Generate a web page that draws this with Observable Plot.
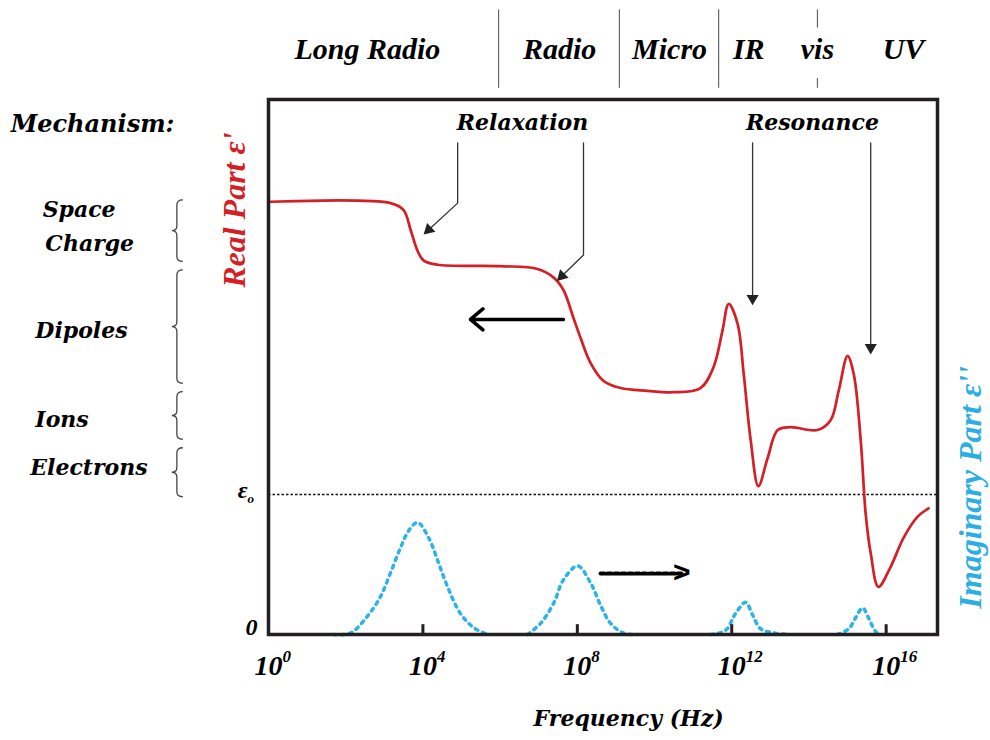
<!DOCTYPE html>
<html><head><meta charset="utf-8">
<script src="https://cdn.jsdelivr.net/npm/d3@7"></script>
<script src="https://cdn.jsdelivr.net/npm/@observablehq/plot@0.6"></script>
<style>
body{margin:0;background:#fff;}
#chart{width:990px;height:740px;}
</style></head><body><div id="chart"></div>
<script>
// ---- data (x = log10 frequency, y = permittivity in units of ε0) ----
const xTickExps = [0, 4, 8, 12, 16];
const realPart = [
  [0.05,3.09],[3.16,3.08],[3.50,3.03],[3.68,2.89],[3.86,2.74],[4.02,2.67],[4.38,2.64],
  [6.01,2.63],[6.97,2.61],[7.38,2.55],[7.64,2.46],[7.90,2.26],[8.08,2.12],[8.34,1.94],
  [8.68,1.81],[9.12,1.76],[9.82,1.74],[10.49,1.73],[11.19,1.76],[11.53,1.91],[11.76,2.17],
  [11.92,2.36],[12.15,2.22],[12.31,1.86],[12.49,1.39],[12.69,1.06],[12.93,1.26],[13.19,1.46],
  [13.52,1.48],[14.22,1.46],[14.56,1.53],[14.77,1.74],[15.00,1.99],[15.16,1.86],[15.34,1.39],
  [15.47,0.86],[15.60,0.58],[15.80,0.34],[16.11,0.48],[16.45,0.69],[16.81,0.84],[17.10,0.90]
];
const imagPeak1 = [[1.68,0],[2.12,0.01],[2.56,0.13],[2.90,0.27],[3.16,0.44],[3.42,0.62],[3.63,0.74],[3.86,0.80],[4.15,0.69],[4.38,0.53],[4.64,0.34],[4.97,0.15],[5.31,0.05],[5.67,0]];
const imagPeak2 = [[6.71,0],[7.05,0.08],[7.38,0.22],[7.64,0.39],[8.01,0.49],[8.34,0.37],[8.60,0.21],[8.86,0.08],[9.20,0.01],[9.56,0]];
const imagPeak3 = [[11.45,0],[11.84,0.03],[12.10,0.15],[12.36,0.23],[12.54,0.14],[12.75,0.04],[13.13,0.01],[13.45,0]];
const imagPeak4 = [[14.74,0],[15.03,0.04],[15.21,0.12],[15.39,0.19],[15.54,0.12],[15.73,0.02],[15.85,0]];
const epsilon0 = 1;

const bandLabels = ["Long Radio","Radio","Micro","IR","vis","UV"];
const bandCenters = [2.56, 7.54, 10.39, 12.44, 14.22, 16.45];
const bandSeparators = [[5.96,3.90,4.46],[9.09,3.90,4.46],[11.66,3.90,4.46],[14.22,4.33,4.46],[14.22,3.90,3.97]];

const mechLabels = ["Mechanism:","Space","Charge","Dipoles","Ions","Electrons"];
const mechX = [-6.68,-5.85,-5.78,-6.04,-6.04,-6.17];
const mechY = [3.64,3.03,2.79,2.17,1.53,1.19];
const braceX = -2.49;
const braceRanges = [[3.10,2.66],[2.60,1.79],[1.73,1.39],[1.33,0.98]];

const relaxArrows = [[[4.90,3.51],[4.90,3.08],[4.15,2.89]], [[8.16,3.51],[8.16,2.71],[7.60,2.56]]];
const resonArrows = [[[12.54,3.51],[12.54,2.40]], [[15.60,3.51],[15.60,2.05]]];
const arrowHeads = [[4.15,2.89,227],[7.60,2.56,225],[12.54,2.40,180],[15.60,2.05,180]];
const shiftArrowLeft = [7.64, 5.23, 2.25];
const shiftArrowRight = [8.60, 10.93, 0.436];

// ---- helpers ----
const F = e => Math.pow(10, e);
const serif = "Liberation Serif";
const wide = "DejaVu Serif";
const imagData = [imagPeak1, imagPeak2, imagPeak3, imagPeak4].flatMap((p, k) => p.map(d => ({e: d[0], v: d[1], peak: k})));
const mech = mechLabels.map((t, i) => ({t, e: mechX[i], v: mechY[i], size: i === 0 ? 24 : 22}));
const bands = bandLabels.map((t, i) => ({t, e: bandCenters[i]}));

const plot = Plot.plot({
  width: 990, height: 740,
  marginLeft: 268, marginRight: 53, marginTop: 99, marginBottom: 106,
  style: {fontFamily: serif, background: "#fff", overflow: "visible"},
  x: {type: "log", domain: [1, F(17.33)], axis: null},
  y: {domain: [0, 3.82], axis: null},
  marks: [
    Plot.ruleY([epsilon0], {stroke: "#111", strokeWidth: 1.5, strokeDasharray: "2.5,2"}),
    Plot.line(imagData, {x: d => F(d.e), y: "v", z: "peak", stroke: "#2db3e6", strokeWidth: 3.5, strokeDasharray: "3,5", curve: "catmull-rom"}),
    Plot.line(realPart, {x: d => F(d[0]), y: d => d[1], stroke: "#d41f26", strokeWidth: 2.7, curve: "catmull-rom"}),
    Plot.frame({stroke: "#231f20", strokeWidth: 3.5}),
    Plot.ruleX(xTickExps.slice(1), {x: F, y1: 0, y2: 0.07, stroke: "#231f20", strokeWidth: 3}),
    // tick labels
    Plot.text(xTickExps, {x: F, y: 0, text: () => "10", dy: 32, fontSize: 28, fontStyle: "italic", fontWeight: "bold"}),
    Plot.text(xTickExps, {x: F, y: 0, text: d => String(d), dx: 14, dy: 22, textAnchor: "start", fontSize: 17, fontStyle: "italic", fontWeight: "bold"}),
    Plot.text(["Frequency (Hz)"], {x: F(9.33), y: -0.6, fontFamily: wide, fontSize: 22, fontStyle: "italic", fontWeight: "bold"}),
    // y labels
    Plot.text(["0"], {x: 1, y: 0.05, dx: -11, textAnchor: "end", fontSize: 24, fontStyle: "italic", fontWeight: "bold"}),
    Plot.text(["ε"], {x: 1, y: 1.03, dx: -21, textAnchor: "end", fontSize: 24, fontStyle: "italic", fontWeight: "bold"}),
    Plot.text(["o"], {x: 1, y: 0.97, dx: -21, textAnchor: "start", fontSize: 13, fontStyle: "italic", fontWeight: "bold"}),
    Plot.text(["Real Part ε'"], {x: F(-0.88), y: 3.03, rotate: -90, fill: "#d41f26", fontSize: 32, fontStyle: "italic", fontWeight: "bold"}),
    Plot.text(["Imaginary Part ε''"], {x: F(18.19), y: 1.05, rotate: -90, fill: "#2aaee3", fontSize: 32, fontStyle: "italic", fontWeight: "bold"}),
    // top bands
    Plot.ruleX(bandSeparators, {x: d => F(d[0]), y1: d => d[1], y2: d => d[2], stroke: "#666", strokeWidth: 1.2}),
    Plot.text(bands, {x: d => F(d.e), y: 4.18, text: "t", fontSize: 30, fontStyle: "italic", fontWeight: "bold"}),
    // mechanisms
    Plot.text(mech, {x: d => F(d.e), y: "v", text: "t", textAnchor: "start", fontFamily: wide, fontSize: d => d.size, fontStyle: "italic", fontWeight: "bold"}),
    // annotations
    Plot.text(["Relaxation"], {x: F(6.58), y: 3.65, fontFamily: wide, fontSize: 22, fontStyle: "italic", fontWeight: "bold"}),
    Plot.text(["Resonance"], {x: F(14.09), y: 3.65, fontFamily: wide, fontSize: 22, fontStyle: "italic", fontWeight: "bold"}),
    ...relaxArrows.concat(resonArrows).map(a => Plot.line(a, {x: d => F(d[0]), y: d => d[1], stroke: "#333", strokeWidth: 1.3})),
    Plot.dot(arrowHeads, {x: d => F(d[0]), y: d => d[1], rotate: d => d[2], symbol: "triangle", r: 4.5, fill: "#222", stroke: "none"}),
    Plot.arrow([shiftArrowLeft], {x1: d => F(d[0]), x2: d => F(d[1]), y1: d => d[2], y2: d => d[2], stroke: "#000", strokeWidth: 3.5, headLength: 7, headAngle: 80}),
    Plot.line([[shiftArrowRight[0], shiftArrowRight[2]], [shiftArrowRight[1] - 0.2, shiftArrowRight[2]]], {x: d => F(d[0]), y: d => d[1], stroke: "#000", strokeWidth: 4, strokeDasharray: "4,3"}),
    Plot.text([">"], {x: F(shiftArrowRight[1]), y: shiftArrowRight[2], textAnchor: "end", dy: -1, fontFamily: "Liberation Sans", fontWeight: "bold", fontSize: 30})
  ]
});

// curly braces drawn through the plot's own scales
const sx = plot.scale("x"), sy = plot.scale("y");
const g = d3.select(plot).append("g").attr("fill", "none").attr("stroke", "#444").attr("stroke-width", 1.3);
for (const [top, bot] of braceRanges) {
  const xt = sx.apply(F(braceX)), y0 = sy.apply(top), y1 = sy.apply(bot), ym = (y0 + y1) / 2;
  const xm = xt + 5, xr = xt + 11, r = 5;
  g.append("path").attr("d",
    `M${xr},${y0} Q${xm},${y0} ${xm},${y0 + r} L${xm},${ym - r} Q${xm},${ym} ${xt},${ym} Q${xm},${ym} ${xm},${ym + r} L${xm},${y1 - r} Q${xm},${y1} ${xr},${y1}`);
}
document.getElementById("chart").appendChild(plot);
</script></body></html>
